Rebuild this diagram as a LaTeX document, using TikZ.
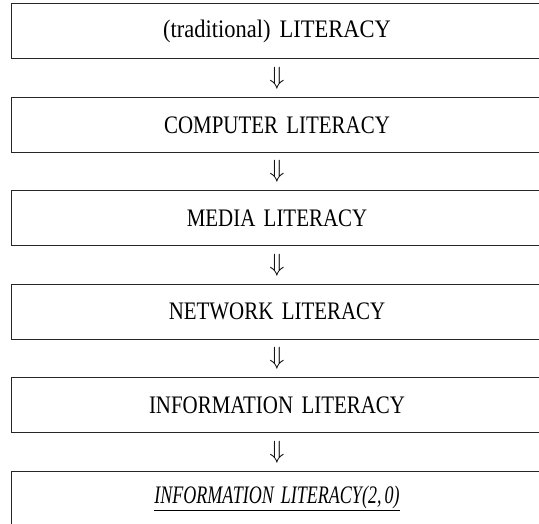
\documentclass[tikz,border=0pt]{standalone}
\usepackage{fontspec}
\usepackage{graphicx}
\setmainfont{Liberation Serif}[WordSpace=1.6]
\usetikzlibrary{calc}
% slightly elongated lettering for the stage labels (optional horizontal factor)
\newcommand{\stagetext}[2][0.93]{\scalebox{#1}[1.12]{#2}}
\begin{document}
\begin{tikzpicture}[x=1pt,y=1pt,
  stage/.style={draw=black!85, line width=1pt, minimum width=532pt,
    minimum height=55pt, inner sep=0pt, anchor=center,
    font=\fontsize{22.5}{26}\selectfont},
  flowarrow/.style={inner sep=0pt, font=\fontsize{26}{26}\selectfont}]
\useasboundingbox (0,0) rectangle (539,-524);
\clip (0,0) rectangle (539,-524);
% stacked literacy stages
\node[stage] (s1) at (277,-31.5)  {\stagetext[1]{(traditional) LITERACY}};
\node[stage] (s2) at (277,-124.9) {\stagetext{COMPUTER LITERACY}};
\node[stage] (s3) at (277,-218.3) {\stagetext{MEDIA LITERACY}};
\node[stage] (s4) at (277,-311.7) {\stagetext{NETWORK LITERACY}};
\node[stage] (s5) at (277,-405.1) {\stagetext{INFORMATION LITERACY}};
\node[stage] (s6) at (277,-498.5) {\stagetext[0.8]{\itshape\underline{INFORMATION LITERACY(2,\,0)}}};
% double arrows between consecutive stages
\foreach \a/\b in {s1/s2,s2/s3,s3/s4,s4/s5,s5/s6}
  \node[flowarrow] (arr-\a) at ($(\a.south)!0.5!(\b.north)$) {$\Downarrow$};
\end{tikzpicture}
\end{document}
